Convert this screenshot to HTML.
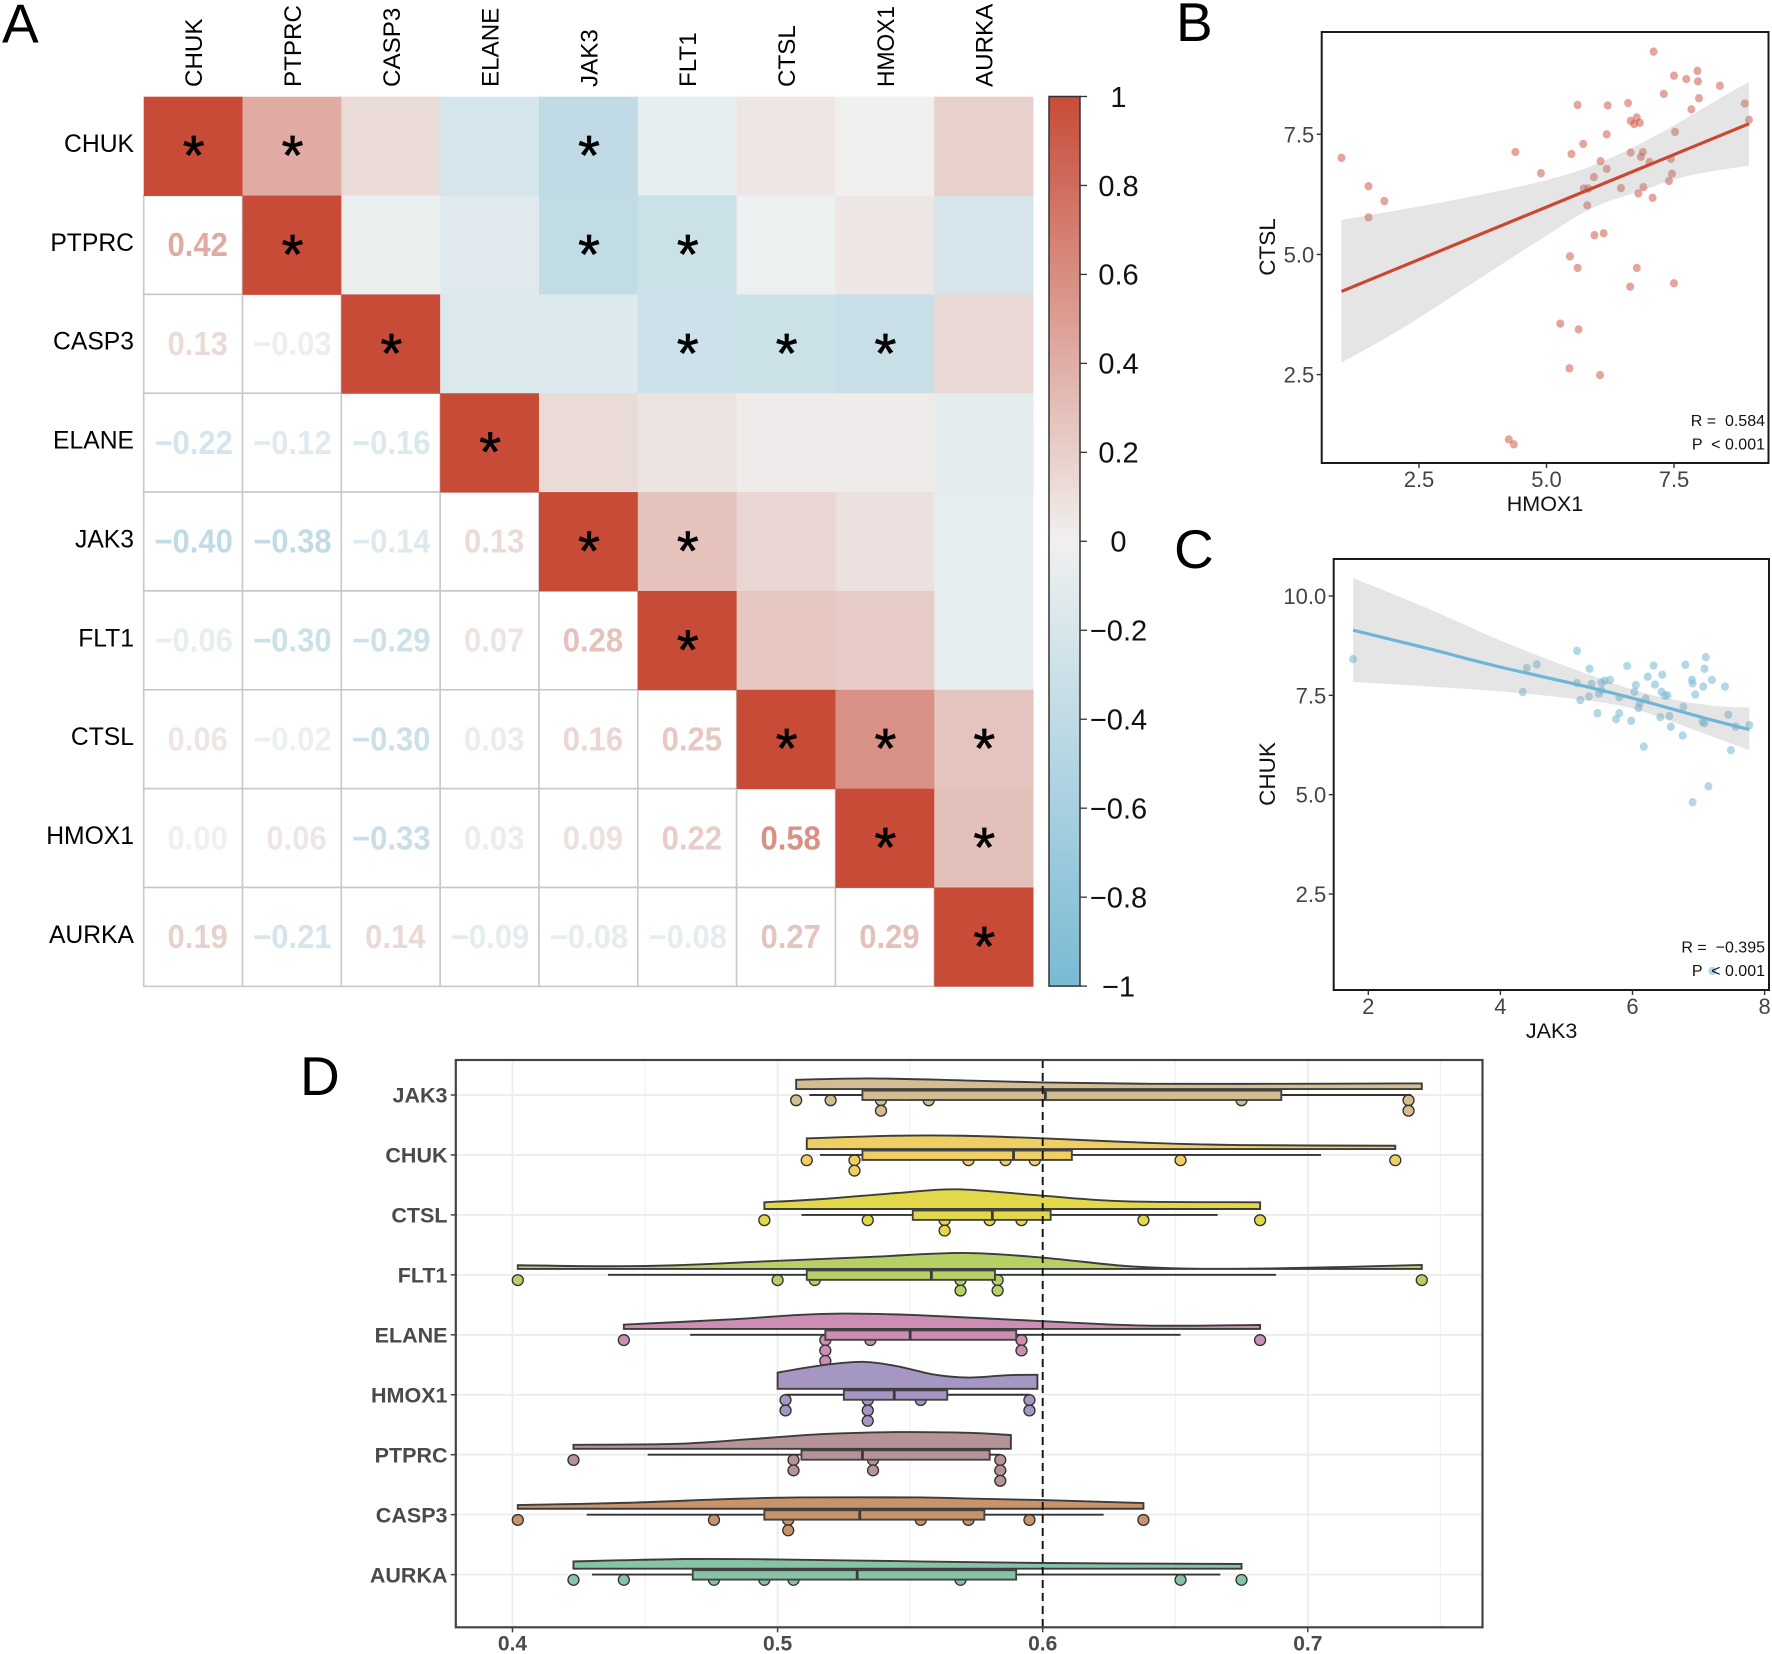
<!DOCTYPE html>
<html lang="en">
<head>
<meta charset="utf-8">
<title>Correlation heatmap, scatter plots and raincloud plot</title>
<style>
html,body{margin:0;padding:0;background:#fff;}
svg{display:block;position:absolute;left:0;top:0;}
text{font-family:"Liberation Sans",Arial,sans-serif;}
</style>
</head>
<body>
<svg id="figure" xmlns="http://www.w3.org/2000/svg" width="1772" height="1654" viewBox="0 0 1772 1654">
  <rect x="0" y="0" width="1772" height="1654" fill="#ffffff"/>
  <text x="2" y="42.7" font-size="55" fill="#000">A</text>
  <text x="1176" y="41" font-size="55" fill="#000">B</text>
  <text x="1174" y="568" font-size="55" fill="#000">C</text>
  <text x="300" y="1095" font-size="55" fill="#000">D</text>
  <g id="panelA"></g>
  <g id="panelB"></g>
  <g id="panelC"></g>
  <g id="panelD"></g>
</svg>
<script>
/* ---------- Panel A data ---------- */
const geneNames = ["CHUK","PTPRC","CASP3","ELANE","JAK3","FLT1","CTSL","HMOX1","AURKA"];
const corrLower = [
  [1],
  [0.42,1],
  [0.13,-0.03,1],
  [-0.22,-0.12,-0.16,1],
  [-0.40,-0.38,-0.14,0.13,1],
  [-0.06,-0.30,-0.29,0.07,0.28,1],
  [0.06,-0.02,-0.30,0.03,0.16,0.25,1],
  [0.00,0.06,-0.33,0.03,0.09,0.22,0.58,1],
  [0.19,-0.21,0.14,-0.09,-0.08,-0.08,0.27,0.29,1]
];
const sigPairs = [[0,0],[0,1],[0,4],[1,1],[1,4],[1,5],[2,2],[2,5],[2,6],[2,7],[3,3],[4,4],[4,5],[5,5],[6,6],[6,7],[6,8],[7,7],[7,8],[8,8]];
const colorbarTicks = [1,0.8,0.6,0.4,0.2,0,-0.2,-0.4,-0.6,-0.8,-1];

/* ---------- Panel B data ---------- */
const bX = [7.10,7.50,7.74,7.96,7.97,8.40,7.30,7.99,7.84,6.60,6.20,5.61,8.89,8.97,6.77,6.65,6.72,6.83,7.52,6.18,5.72,4.39,5.49,6.65,6.89,6.85,7.44,7.02,6.06,6.18,0.98,4.89,5.93,7.46,7.40,1.51,5.73,5.82,6.46,6.90,6.80,7.08,1.82,5.80,1.51,5.94,6.12,5.46,5.61,6.77,6.64,7.50,5.27,5.63,5.45,6.05,4.26,4.36];
const bY = [9.22,8.72,8.65,8.82,8.60,8.51,8.34,8.25,8.02,8.15,8.10,8.11,8.14,7.80,7.85,7.78,7.71,7.74,7.55,7.50,7.30,7.13,7.09,7.12,7.13,7.03,6.99,6.92,6.94,6.78,7.01,6.69,6.61,6.68,6.53,6.42,6.37,6.37,6.38,6.40,6.27,6.18,6.11,6.02,5.77,5.40,5.44,4.96,4.72,4.72,4.33,4.40,3.56,3.44,2.63,2.49,1.15,1.05];
const bFitX = [0.98,8.97];
const bFitY = [4.23,7.72];
const bUpperX = [0.98,2.97,4.42,5.39,5.97,6.64,7.51,8.29,8.97];
const bUpperY = [5.72,6.09,6.40,6.66,6.88,7.20,7.69,8.18,8.59];
const bLowerX = [0.98,2.01,2.97,3.94,4.91,5.87,6.84,7.80,8.97];
const bLowerY = [2.75,3.36,4.00,4.67,5.33,5.95,6.32,6.64,6.85];
const bXTicks = [2.5,5.0,7.5];
const bYTicks = [2.5,5.0,7.5];

/* ---------- Panel C data ---------- */
const cX = [1.77,5.16,5.35,4.40,4.55,4.34,5.92,6.32,6.80,7.11,7.09,6.23,6.45,6.90,6.91,7.07,7.20,7.40,6.05,6.34,5.66,5.58,5.53,5.38,5.16,6.03,6.44,6.49,6.53,6.95,5.34,5.49,5.53,5.80,5.21,6.20,6.11,6.09,6.77,5.47,5.80,5.75,5.98,6.42,6.56,6.58,7.06,7.09,7.45,7.56,7.77,6.76,6.17,7.49,7.15,6.91,7.21];
const cY = [8.41,8.62,8.17,8.19,8.28,7.58,8.24,8.25,8.27,8.46,8.17,7.97,8.02,7.89,7.80,7.72,7.89,7.72,7.76,7.77,7.89,7.87,7.82,7.79,7.81,7.59,7.59,7.49,7.50,7.52,7.47,7.54,7.63,7.45,7.38,7.42,7.30,7.18,7.21,7.05,7.05,6.90,6.86,6.95,6.98,6.71,6.83,6.80,7.01,6.71,6.75,6.49,6.21,6.12,5.21,4.81,0.56];
const cFitX = [1.77,2.90,3.98,5.30,6.20,7.11,7.77];
const cFitY = [9.14,8.68,8.22,7.72,7.34,6.92,6.64];
const cUpperX = [1.77,2.90,4.10,5.30,6.20,7.11,7.77];
const cUpperY = [10.45,9.69,8.81,8.05,7.55,7.26,7.19];
const cLowerX = [1.77,3.50,4.70,5.90,6.80,7.77];
const cLowerY = [7.84,7.66,7.49,7.21,6.71,6.12];
const cXTicks = [2,4,6,8];
const cYTicks = [2.5,5.0,7.5,10.0];

/* ---------- Panel D data ---------- */
const rainGenes = ["JAK3","CHUK","CTSL","FLT1","ELANE","HMOX1","PTPRC","CASP3","AURKA"];
const rainColors = ["#D4BC93","#EFCF63","#E2D84A","#B6D066","#CC8FB3","#A596C4","#B59396","#C9946A","#87C4A5"];
const boxQ1 = [0.532,0.532,0.551,0.511,0.518,0.525,0.509,0.495,0.468];
const boxMedian = [0.601,0.589,0.581,0.558,0.550,0.544,0.532,0.531,0.530];
const boxQ3 = [0.690,0.611,0.603,0.582,0.590,0.564,0.580,0.578,0.590];
const whiskerLow = [0.512,0.516,0.509,0.436,0.467,0.503,0.451,0.428,0.430];
const whiskerHigh = [0.739,0.705,0.666,0.688,0.652,0.595,0.584,0.623,0.667];
const rainPoints = [
  [0.507,0.520,0.539,0.539,0.557,0.675,0.738,0.738],
  [0.511,0.529,0.529,0.572,0.586,0.597,0.652,0.733],
  [0.495,0.534,0.563,0.563,0.580,0.592,0.638,0.682],
  [0.402,0.500,0.514,0.569,0.569,0.583,0.583,0.743],
  [0.442,0.518,0.518,0.518,0.535,0.592,0.592,0.682],
  [0.503,0.503,0.534,0.534,0.534,0.554,0.595,0.595],
  [0.423,0.506,0.506,0.536,0.536,0.584,0.584,0.584],
  [0.402,0.476,0.504,0.504,0.554,0.572,0.595,0.638],
  [0.423,0.442,0.476,0.495,0.506,0.569,0.652,0.675]
];
const violinX = [
  [0.507,0.535,0.570,0.600,0.640,0.691,0.743],
  [0.511,0.544,0.570,0.600,0.639,0.674,0.733],
  [0.495,0.517,0.545,0.568,0.600,0.631,0.682],
  [0.402,0.435,0.462,0.499,0.535,0.570,0.600,0.631,0.657,0.691,0.743],
  [0.442,0.481,0.508,0.526,0.553,0.600,0.639,0.682],
  [0.500,0.517,0.532,0.545,0.559,0.572,0.587,0.598],
  [0.423,0.462,0.490,0.517,0.545,0.572,0.588],
  [0.402,0.444,0.481,0.508,0.554,0.570,0.600,0.638],
  [0.423,0.466,0.499,0.553,0.600,0.675]
];
const violinDensity = [
  [9.3,10.7,8.7,6.7,5.3,5.3,5.7],
  [10.7,13.3,13.3,10.7,6.3,4,3.3],
  [6.7,10,16,19.7,13.3,7.7,6.7],
  [3.7,2.7,3.7,8,12,16,11.3,3,0.3,0.7,4],
  [4.3,9.3,14,15.3,13.7,7.7,3.3,4],
  [16.3,23.7,27,22.7,14.3,11.3,13.7,14],
  [4,5,9.7,14.7,16.7,16,13.7],
  [3.7,6,9.7,11.3,11.3,10.3,8.7,5.7],
  [7.3,9.7,9.3,7.3,5.7,4.7]
];
const rainMajorTicks = [0.4,0.5,0.6,0.7];
const rainMinorTicks = [0.45,0.55,0.65,0.75];
const referenceValue = 0.6;

/* ---------- helpers ---------- */
const NS = "http://www.w3.org/2000/svg";
function mk(parent, tag, attrs){
  const el = document.createElementNS(NS, tag);
  for (const k in attrs) el.setAttribute(k, attrs[k]);
  parent.appendChild(el);
  return el;
}
function txt(parent, x, y, s, size, attrs){
  const el = mk(parent, "text", Object.assign({x:x, y:y, "font-size":size}, attrs || {}));
  el.textContent = s;
  return el;
}
function smoothPath(pts, start){
  let d = start ? "M" + pts[0][0] + "," + pts[0][1] : "L" + pts[0][0] + "," + pts[0][1];
  for (let i = 0; i < pts.length - 1; i++){
    const p0 = pts[Math.max(i-1,0)], p1 = pts[i], p2 = pts[i+1], p3 = pts[Math.min(i+2,pts.length-1)];
    const c1x = p1[0] + (p2[0]-p0[0])/6, c1y = p1[1] + (p2[1]-p0[1])/6;
    const c2x = p2[0] - (p3[0]-p1[0])/6, c2y = p2[1] - (p3[1]-p1[1])/6;
    d += " C" + c1x + "," + c1y + " " + c2x + "," + c2y + " " + p2[0] + "," + p2[1];
  }
  return d;
}
function pairs(xs, ys, fx, fy){
  return xs.map(function(v,i){ return [fx(v), fy(ys[i])]; });
}
function mix(a, b, t){
  return Math.round(a + (b - a) * t);
}
const colorRed = [200,75,56], colorMidWarm = [240,240,239], colorMidCool = [238,241,241], colorBlue = [122,186,212];
function corrColor(v){
  const end = v >= 0 ? colorRed : colorBlue;
  const mid = v >= 0 ? colorMidWarm : colorMidCool;
  const t = Math.min(1, Math.abs(v));
  return "rgb(" + mix(mid[0],end[0],t) + "," + mix(mid[1],end[1],t) + "," + mix(mid[2],end[2],t) + ")";
}
function corrValue(r, c){
  return r >= c ? corrLower[r][c] : corrLower[c][r];
}
function fmtCorr(v){
  return (v < 0 ? "\u2212" : "") + Math.abs(v).toFixed(2);
}

/* ---------- Panel A ---------- */
(function(){
  const g = document.getElementById("panelA");
  const x0 = 143.7, y0 = 96.7, cw = 98.82, ch = 98.85;
  const colX = function(c){ return x0 + c * cw; };
  const rowY = function(r){ return y0 + r * ch; };
  const isSig = function(r,c){ return sigPairs.some(function(p){ return p[0]===r && p[1]===c; }); };
  for (let r = 0; r < geneNames.length; r++){
    for (let c = 0; c < r; c++){
      const v = corrValue(r,c);
      const cell = mk(g, "rect", {x:colX(c), y:rowY(r), width:cw, height:ch, fill:"#fff", stroke:"#c8c8c8", "stroke-width":1.6});
      
      
      const tx = colX(c) + cw/2 + (v < 0 ? 0.5 : 4.6), ty = rowY(r) + ch/2 + 11.2;
      const label = txt(g, 0, 0, fmtCorr(v), 33, {"text-anchor":"middle","font-weight":"bold",fill:corrColor(v),transform:"translate(" + tx + " " + ty + ") scale(0.94 1)"});
      
      
    }
  }
  for (let r = 0; r < geneNames.length; r++){
    for (let c = r; c < geneNames.length; c++){
      const cell = mk(g, "rect", {x:colX(c), y:rowY(r), width:cw+0.4, height:ch+0.4, fill:corrColor(corrValue(r,c))});
      
      
      if (isSig(r,c)){
        const star = txt(g, colX(c) + cw/2 + 0.6, rowY(r) + ch/2 + 28.5, "*", 56, {"text-anchor":"middle",fill:"#000",stroke:"#000","stroke-width":0.7});
        
        
      }
    }
  }
  geneNames.forEach(function(name,i){
    const rowLabel = txt(g, 134, rowY(i) + ch/2 + 5.9, name, 24.7, {"text-anchor":"end",fill:"#000"});
    
    
    const cx = colX(i) + cw/2 + 9, cy = 87;
    const colLabel = txt(g, cx, cy, name, 24.2, {transform:"rotate(-90 " + cx + " " + cy + ")",fill:"#000"});
    
    
    if (name === "HMOX1") {
      colLabel.setAttribute("textLength", "81");
      colLabel.setAttribute("lengthAdjust", "spacingAndGlyphs");
    }
  });

  /* colour bar */
  const defs = mk(g, "defs", {});
  const grad = mk(defs, "linearGradient", {id:"cbGrad", x1:0, y1:0, x2:0, y2:1});
  colorbarTicks.forEach(function(v){
    mk(grad, "stop", {offset:(1-v)/2, "stop-color":corrColor(v)});
  });
  const barY = function(v){ return 541.3 - v * 444.8; };
  const bar = mk(g, "rect", {x:1049, y:barY(1), width:31, height:barY(-1)-barY(1), fill:"url(#cbGrad)", stroke:"#333", "stroke-width":1.5});
  
  
  colorbarTicks.forEach(function(v){
    const tick = mk(g, "line", {x1:1080, x2:1087, y1:barY(v), y2:barY(v), stroke:"#333", "stroke-width":1.3});
    
    
    const s = v === 0 ? "0" : (Math.abs(v) === 1 ? (v < 0 ? "\u22121" : "1") : (v < 0 ? "\u2212" : "") + Math.abs(v).toFixed(1));
    const label = txt(g, 1118.5, barY(v) + 10.3, s, 29, {"text-anchor":"middle",fill:"#111"});
    
    
  });
})();

/* ---------- Scatter panels ---------- */
function drawScatter(cfg){
  const g = document.getElementById(cfg.id);
  const bg = mk(g, "rect", {x:cfg.left, y:cfg.top, width:cfg.right-cfg.left, height:cfg.bottom-cfg.top, fill:"#fff"});
  
  
  const points = mk(g, "g", {});
  
  
  cfg.xs.forEach(function(v,i){
    const dot = mk(points, "ellipse", {cx:cfg.fx(v), cy:cfg.fy(cfg.ys[i]), rx:4, ry:4.2, fill:cfg.dotColor, opacity:cfg.dotOpacity});
    
    
  });
  const up = pairs(cfg.upX, cfg.upY, cfg.fx, cfg.fy);
  const lo = pairs(cfg.loX, cfg.loY, cfg.fx, cfg.fy).reverse();
  const ribbon = mk(g, "path", {d:smoothPath(up,true) + " " + smoothPath(lo,false) + " Z", fill:"#999", "fill-opacity":0.26, stroke:"none"});
  
  
  const fit = mk(g, "path", {d:smoothPath(pairs(cfg.fitX, cfg.fitY, cfg.fx, cfg.fy),true), fill:"none", stroke:cfg.lineColor, "stroke-width":3.2});
  
  
  const frame = mk(g, "rect", {x:cfg.left, y:cfg.top, width:cfg.right-cfg.left, height:cfg.bottom-cfg.top, fill:"none", stroke:"#1a1a1a", "stroke-width":2});
  
  
  cfg.xTicks.forEach(function(v){
    const t = mk(g, "line", {x1:cfg.fx(v), x2:cfg.fx(v), y1:cfg.bottom, y2:cfg.bottom+5, stroke:"#333", "stroke-width":1.4});
    
    
    const l = txt(g, cfg.fx(v), cfg.xTickBase, cfg.xFmt(v), 22, {"text-anchor":"middle",fill:"#444"});
    
    
  });
  cfg.yTicks.forEach(function(v){
    const t = mk(g, "line", {x1:cfg.left-5, x2:cfg.left, y1:cfg.fy(v), y2:cfg.fy(v), stroke:"#333", "stroke-width":1.4});
    
    
    const l = txt(g, cfg.left-7.5, cfg.fy(v)+8, v.toFixed(1), 22, {"text-anchor":"end",fill:"#444"});
    
    
  });
  const xt = txt(g, cfg.xTitleX, cfg.xTitleY, cfg.xTitle, 21.5, {"text-anchor":"middle",fill:"#111"});
  
  
  const yt = txt(g, cfg.yTitleX, cfg.yTitleY, cfg.yTitle, 22.5, {"text-anchor":"middle",fill:"#111",transform:"rotate(-90 " + cfg.yTitleX + " " + cfg.yTitleY + ")"});
  
  
  const r = txt(g, 1765, cfg.rY, cfg.rText, 16, {"text-anchor":"end",fill:"#111",style:"white-space:pre"});
  
  
  const p = txt(g, 1765, cfg.pY, "P  < 0.001", 16, {"text-anchor":"end",fill:"#111",style:"white-space:pre"});
  
  
}
drawScatter({
  id:"panelB", left:1321.7, right:1768.5, top:32, bottom:463,
  fx:function(v){ return 1419 + (v-2.5)*51; },
  fy:function(v){ return 374.6 - (v-2.5)*48.06; },
  xs:bX, ys:bY, dotColor:"#C94C38", dotOpacity:0.5,
  upX:bUpperX, upY:bUpperY, loX:bLowerX, loY:bLowerY, fitX:bFitX, fitY:bFitY, lineColor:"#C9482F",
  xTicks:bXTicks, yTicks:bYTicks, xFmt:function(v){ return v.toFixed(1); }, xTickBase:486.8,
  xTitle:"HMOX1", xTitleX:1545, xTitleY:511, yTitle:"CTSL", yTitleX:1275, yTitleY:247,
  rText:"R =  0.584", rY:426, pY:449.6
});
drawScatter({
  id:"panelC", left:1333.7, right:1769, top:559, bottom:990,
  fx:function(v){ return 1368.3 + (v-2)*66.05; },
  fy:function(v){ return 894 - (v-2.5)*39.73; },
  xs:cX, ys:cY, dotColor:"#7FBCD6", dotOpacity:0.6,
  upX:cUpperX, upY:cUpperY, loX:cLowerX, loY:cLowerY, fitX:cFitX, fitY:cFitY, lineColor:"#6FB6D6",
  xTicks:cXTicks, yTicks:cYTicks, xFmt:function(v){ return String(v); }, xTickBase:1014,
  xTitle:"JAK3", xTitleX:1551.6, xTitleY:1038, yTitle:"CHUK", yTitleX:1275, yTitleY:774,
  rText:"R =  \u22120.395", rY:952.7, pY:976
});

/* ---------- Panel D ---------- */
(function(){
  const g = document.getElementById("panelD");
  const left = 455.8, right = 1482.5, top = 1060, bottom = 1627.3;
  const fx = function(v){ return 512.5 + (v-0.4)*2651; };
  const fRow = function(i){ return 1095 + i*59.95; };
  const fDensity = function(d){ return d * 1; };
  rainMinorTicks.forEach(function(v){
    const l = mk(g, "line", {x1:fx(v), x2:fx(v), y1:top, y2:bottom, stroke:"#f2f2f2", "stroke-width":1.2});
    
    
  });
  rainMajorTicks.forEach(function(v){
    const l = mk(g, "line", {x1:fx(v), x2:fx(v), y1:top, y2:bottom, stroke:"#ececec", "stroke-width":1.8});
    
    
  });
  rainGenes.forEach(function(name,i){
    const y = fRow(i);
    const grid = mk(g, "line", {x1:left, x2:right, y1:y, y2:y, stroke:"#ececec", "stroke-width":1.8});
    
    
  });
  rainGenes.forEach(function(name,i){
    const y = fRow(i), color = rainColors[i];
    /* stacked dots */
    const seen = {};
    rainPoints[i].forEach(function(v){
      const level = seen[v] || 0;
      seen[v] = level + 1;
      const dot = mk(g, "ellipse", {cx:fx(v), cy:y + 5.3 + level*10.4, rx:5.5, ry:5.4, fill:color, stroke:"#2e2e2e", "stroke-width":1.3});
      
      
    });
    /* whisker */
    const w = mk(g, "line", {x1:fx(whiskerLow[i]), x2:fx(whiskerHigh[i]), y1:y, y2:y, stroke:"#333", "stroke-width":1.9});
    
    
    /* half violin */
    const base = y - 5.9;
    const vx = violinX[i], vd = violinDensity[i];
    const curve = vx.map(function(v,k){ return [fx(v), base - fDensity(vd[k])]; });
    const d = "M" + fx(vx[0]) + "," + base + " " + smoothPath(curve,false) + " L" + fx(vx[vx.length-1]) + "," + base + " Z";
    const violin = mk(g, "path", {d:d, fill:color, stroke:"#3c3c3c", "stroke-width":1.9, "stroke-linejoin":"miter"});
    
    
    /* box */
    const box = mk(g, "rect", {x:fx(boxQ1[i]), y:y-4.4, width:fx(boxQ3[i])-fx(boxQ1[i]), height:9.4, fill:color, stroke:"#444", "stroke-width":1.9});
    
    
    const med = mk(g, "line", {x1:fx(boxMedian[i]), x2:fx(boxMedian[i]), y1:y-4.4, y2:y+5, stroke:"#3a3a3a", "stroke-width":2.8});
    
    
    /* axis */
    const t = mk(g, "line", {x1:left-5, x2:left, y1:y, y2:y, stroke:"#444", "stroke-width":1.5});
    
    
    const lab = txt(g, 447.5, y + 7.7, name, 21.5, {"text-anchor":"end","font-weight":"bold",fill:"#4a4a4a"});
    
    
  });
  const ref = mk(g, "line", {x1:fx(referenceValue), x2:fx(referenceValue), y1:top, y2:bottom, stroke:"#111", "stroke-width":1.9, "stroke-dasharray":"8 5"});
  
  
  const frame = mk(g, "rect", {x:left, y:top, width:right-left, height:bottom-top, fill:"none", stroke:"#444", "stroke-width":2.2});
  
  
  rainMajorTicks.forEach(function(v){
    const t = mk(g, "line", {x1:fx(v), x2:fx(v), y1:bottom, y2:bottom+5, stroke:"#444", "stroke-width":1.5});
    
    
    const l = txt(g, fx(v), 1650.7, v.toFixed(1), 21, {"text-anchor":"middle","font-weight":"bold",fill:"#4a4a4a"});
    
    
  });
})();
</script>
</body>
</html>
